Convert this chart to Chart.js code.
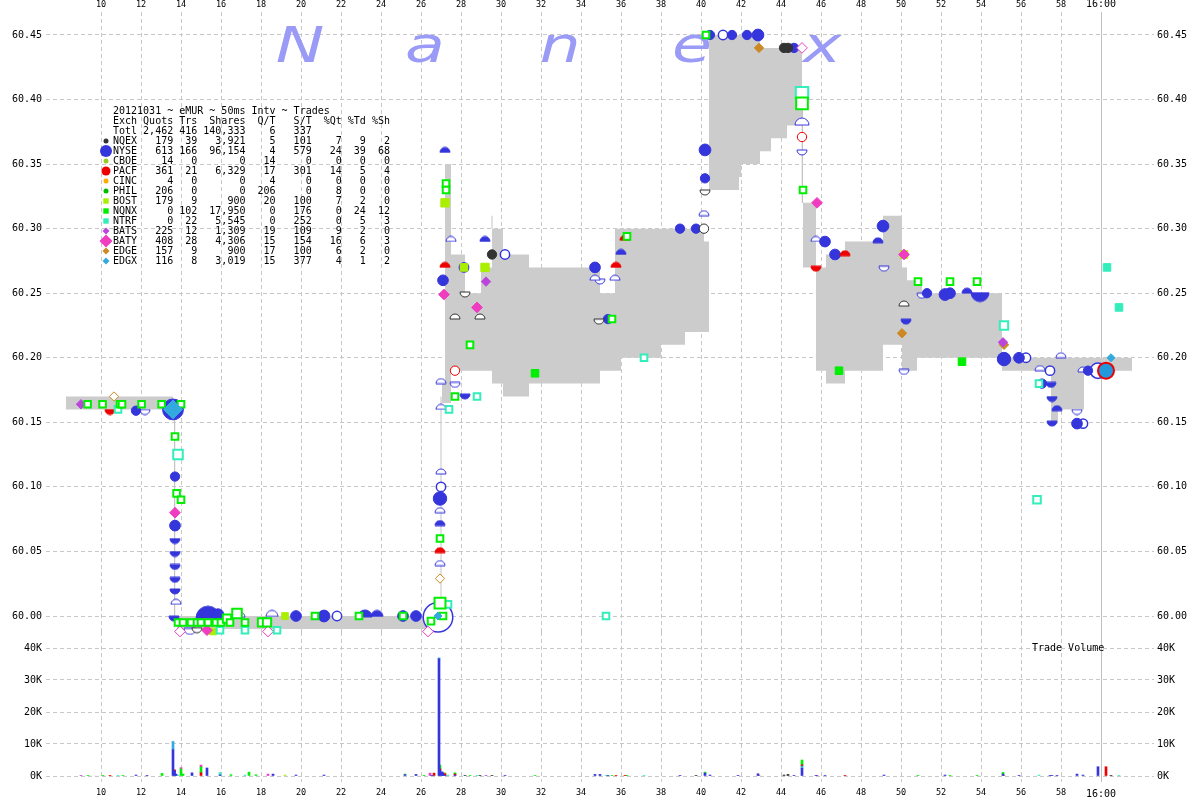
<!DOCTYPE html>
<html>
<head>
<meta charset="utf-8">
<script src="https://cdn.jsdelivr.net/npm/chart.js@4.4.1/dist/chart.umd.min.js"></script>
<style>
  html, body { margin: 0; padding: 0; background: #fff; }
  #wrap { position: relative; width: 1200px; height: 800px; }
  #volBox { position: absolute; left: 0; top: 632px; width: 1200px; height: 168px; z-index: 1; }
  #priceBox { position: absolute; left: 0; top: 0; width: 1200px; height: 640px; z-index: 2; }
  canvas { display: block; }
</style>
</head>
<body>
<div id="wrap">
  <div id="volBox"><canvas id="vol"></canvas></div>
  <div id="priceBox"><canvas id="price"></canvas></div>
</div>
<script>
// time axis = seconds after 15:59:00, 60 = 16:00:00
const X_MIN = 7.25, X_MAX = 62.65, CLOSE_SEC = 60;
const P_MIN = 59.987608, P_MAX = 60.467814;
const V_MIN = -1875, V_MAX = 45000;

// tick values
const timeTicks  = [10, 12, 14, 16, 18, 20, 22, 24, 26, 28, 30, 32, 34, 36, 38, 40, 42, 44, 46, 48, 50, 52, 54, 56, 58, 60];
const priceTicks = [60.00, 60.05, 60.10, 60.15, 60.20, 60.25, 60.30, 60.35, 60.40, 60.45];
const volTicks   = [0, 10000, 20000, 30000, 40000];

// NBBO band (bid / ask), null = gap
const bandT   = [8.25, 13.6, 13.65, 13.8, 26.35, 26.6, 27.05, 27.2, 27.5, 28.2, 29.0, 29.55, 30.1, 31.4, 34.95, 35.7, 36.0, 38.0, 39.2, 40.15, 40.4, 41.9, 42.0, 42.95, 43.5, 44.3, 45.05, 45.07, 45.1, 45.75, 46.25, 47.2, 49.1, 50.05, 50.3, 50.8, 51.05, 55.05, 57.5, 57.85, 59.15, 61.55];
const bandBid = [60.16, 60.16, null, 59.99, 59.99, null, 60.165, 60.165, 60.19, 60.19, 60.19, 60.18, 60.17, 60.18, 60.19, 60.19, 60.20, 60.21, 60.22, 60.22, 60.33, 60.34, 60.35, 60.36, 60.37, 60.38, 60.38, null, 60.27, 60.19, 60.18, 60.19, 60.21, 60.19, 60.19, 60.20, 60.20, 60.19, 60.15, 60.16, 60.19, 60.19];
const bandAsk = [60.17, 60.17, null, 60.00, 60.00, null, 60.18, 60.35, 60.28, 60.25, 60.27, 60.30, 60.28, 60.27, 60.25, 60.30, 60.30, 60.30, 60.30, 60.29, 60.45, 60.45, 60.45, 60.44, 60.44, 60.44, 60.44, null, 60.32, 60.27, 60.28, 60.29, 60.31, 60.27, 60.26, 60.26, 60.25, 60.20, 60.20, 60.20, 60.20, 60.20];
// fast moves drawn as thin lines
const connT = [13.68, 13.68, null, 27.0, 27.0, null, 29.55, 29.55, null, 45.07, 45.07];
const connP = [60.165, 59.995, null, 59.995, 60.17, null, 60.30, 60.31, null, 60.41, 60.32];

// NYSE
const nyseTrdT  = [11.75, 13.6, 13.7, 13.7, 15.85, 19.75, 21.15, 25.1, 25.75, 26.95, 27.1, 34.7, 35.35, 38.95, 39.75, 40.2, 40.2, 40.45, 41.55, 42.3, 42.85, 44.65, 46.2, 46.7, 49.1, 51.3, 52.2, 52.45, 55.15, 55.9, 57.05, 58.8, 59.35];
const nyseTrdP  = [60.159, 60.160, 60.108, 60.070, 60.001, 60.000, 60.000, 60.000, 60.000, 60.091, 60.260, 60.270, 60.230, 60.300, 60.300, 60.361, 60.339, 60.450, 60.450, 60.450, 60.450, 60.440, 60.290, 60.280, 60.302, 60.250, 60.249, 60.250, 60.199, 60.200, 60.180, 60.149, 60.190];
const nyseTrdSz = [100, 2000, 100, 200, 300, 200, 300, 200, 200, 500, 200, 200, 100, 100, 100, 300, 100, 100, 100, 100, 300, 100, 200, 200, 300, 100, 300, 200, 500, 200, 100, 200, 100];
const nyseBidT  = [15.35, 23.2, 23.8, 26.95, 27.2, 29.2, 36.0, 48.85, 53.3, 57.8];
const nyseBidP  = [60.003, 60.002, 60.002, 60.072, 60.361, 60.292, 60.282, 60.291, 60.252, 60.161];
const nyseBidSz = [3000, 500, 300, 100, 100, 100, 100, 100, 200, 100];
const nyseAskT  = [13.7, 13.7, 13.7, 13.7, 13.7, 13.65, 28.2, 50.25, 53.95, 57.5, 57.55, 57.55];
const nyseAskP  = [60.058, 60.048, 60.038, 60.028, 60.019, 59.998, 60.170, 60.228, 60.247, 60.179, 60.168, 60.149];
const nyseAskSz = [200, 200, 200, 100, 100, 200, 100, 100, 1500, 100, 100, 100];
const nyseBidOT  = [13.75, 16.95, 18.55, 26.95, 26.95, 27.0, 27.0, 27.0, 27.5, 34.7, 35.7, 40.15, 45.05, 45.75, 56.95, 58.0, 59.1];
const nyseBidOP  = [60.011, 60.001, 60.002, 60.082, 60.041, 60.112, 60.162, 60.182, 60.292, 60.262, 60.262, 60.312, 60.383, 60.292, 60.192, 60.202, 60.191];
const nyseBidOSz = [100, 100, 300, 100, 100, 100, 100, 200, 100, 100, 100, 100, 600, 100, 100, 100, 100];
const nyseAskOT  = [12.2, 14.45, 27.7, 34.95, 45.05, 49.15, 50.15, 51.05, 58.8];
const nyseAskOP  = [60.158, 59.988, 60.179, 60.259, 60.359, 60.269, 60.189, 60.248, 60.158];
const nyseAskOSz = [100, 300, 100, 100, 100, 100, 100, 100, 100];
const nyseRingT  = [21.8, 26.85, 27.0, 28.15, 30.2, 41.1, 56.25, 57.45, 59.1, 59.85];
const nyseRingP  = [60.000, 59.999, 60.100, 60.270, 60.280, 60.450, 60.200, 60.190, 60.149, 60.190];
const nyseRingSz = [100, 5000, 100, 100, 100, 100, 100, 100, 100, 800];

// NQEX
const nqexTrdT = [29.55, 44.15, 44.35];
const nqexTrdP = [60.28, 60.44, 60.44];
const nqexAskT = [14.8, 28.2, 34.9, 40.2];
const nqexAskP = [59.989, 60.249, 60.228, 60.328];
const nqexBidT = [27.7, 28.95, 50.15];
const nqexBidP = [60.232, 60.232, 60.242];
const nqexRingT = [40.15];
const nqexRingP = [60.30];

// PACF
const pacfBidT = [26.95, 27.2, 35.75, 36.2, 47.2];
const pacfBidP = [60.051, 60.272, 60.272, 60.293, 60.281];
const pacfAskT = [10.45, 45.75];
const pacfAskP = [60.158, 60.269];
const pacfRingT = [27.7, 45.05];
const pacfRingP = [60.19, 60.371];

// BATY / BATS / EDGE / EDGX / BOST
const batyT  = [13.7, 15.3, 27.15, 28.8, 45.8, 50.15];
const batyP  = [60.080, 59.989, 60.249, 60.239, 60.320, 60.280];
const batyOT = [13.95, 18.35, 26.35, 45.05];
const batyOP = [59.988, 59.988, 59.988, 60.440];
const batsT  = [9.0, 29.25, 55.1];
const batsP  = [60.164, 60.259, 60.212];
const edgeT  = [42.9, 50.05, 55.15];
const edgeP  = [60.44, 60.219, 60.21];
const edgeOT = [10.65, 26.95];
const edgeOP = [60.17, 60.029];
const edgxT  = [13.6, 26.85, 60.5];
const edgxP  = [60.16, 60.000, 60.20];
const edgxSz = [1500, 40, 40];
const edgxTrdT = [60.25];
const edgxTrdP = [60.19];
const edgxTrdSz = [900];
const bostT  = [15.6, 19.2, 27.2, 28.15, 29.2, 50.15, 50.85];
const bostP  = [59.988, 60.0, 60.32, 60.27, 60.27, 60.28, 60.259];
const bostSz = [100, 100, 300, 200, 300, 200, 100];

// NQNX / NTRF prints
const nqnxT  = [9.33, 10.08, 10.95, 11.05, 12.03, 13.03, 14.0, 13.7, 13.78, 14.0, 13.85, 14.1, 14.5, 14.8, 15.0, 15.35, 15.75, 16.0, 16.3, 16.45, 16.8, 17.2, 18.05, 18.3, 20.7, 22.9, 25.1, 26.5, 26.95, 27.1, 26.95, 27.25, 27.25, 27.7, 28.45, 35.55, 36.3, 40.25, 45.05, 45.1, 50.85, 52.45, 53.8];
const nqnxP  = [60.164, 60.164, 60.164, 60.164, 60.164, 60.164, 60.164, 60.139, 60.095, 60.090, 59.995, 59.995, 59.995, 59.995, 59.995, 59.995, 59.995, 59.995, 59.998, 59.995, 60.002, 59.995, 59.995, 59.995, 60.000, 60.000, 60.000, 59.996, 60.010, 60.000, 60.060, 60.335, 60.330, 60.170, 60.210, 60.230, 60.294, 60.450, 60.397, 60.330, 60.259, 60.259, 60.259];
const nqnxSz = [100, 100, 100, 100, 100, 100, 100, 100, 100, 100, 100, 100, 100, 100, 100, 100, 100, 100, 300, 100, 500, 100, 300, 300, 100, 100, 100, 100, 800, 100, 100, 100, 100, 100, 100, 100, 100, 100, 1000, 100, 100, 100, 100];
const nqnxFT = [31.7, 46.9, 53.05];
const nqnxFP = [60.188, 60.19, 60.197];
const ntrfT  = [10.85, 13.85, 15.95, 17.2, 18.8, 27.35, 27.4, 28.8, 35.25, 37.15, 45.05, 55.15, 56.8, 56.9];
const ntrfP  = [60.160, 60.125, 59.989, 59.989, 59.989, 60.009, 60.160, 60.170, 60.000, 60.200, 60.405, 60.225, 60.090, 60.180];
const ntrfSz = [100, 500, 100, 100, 100, 100, 100, 100, 100, 100, 1200, 300, 200, 100];
const ntrfFT = [60.3, 60.9];
const ntrfFP = [60.27, 60.239];

// trade volume by exchange
const volNyseT = [11.75, 12.3, 13.6, 13.68, 13.75, 14.55, 15.3, 15.95, 18.6, 19.75, 21.15, 25.2, 25.75, 26.55, 26.9, 26.95, 27.05, 27.1, 27.2, 27.7, 30.2, 34.7, 34.95, 35.35, 38.95, 40.2, 40.45, 41.85, 42.85, 44.65, 45.05, 45.75, 46.2, 49.15, 52.2, 55.1, 55.9, 57.45, 57.55, 57.8, 58.8, 59.1, 59.85];
const volNyse  = [300, 200, 8200, 1600, 600, 1000, 2500, 300, 600, 300, 300, 400, 500, 200, 36600, 1700, 1300, 1000, 200, 300, 200, 500, 500, 200, 200, 900, 300, 200, 700, 200, 2400, 200, 200, 300, 300, 600, 200, 200, 200, 200, 600, 300, 2900];
const volEdgxT = [13.6, 26.9, 45.05];
const volEdgx  = [2600, 300, 700];
const volNtrfT = [10.85, 13.85, 15.95, 17.2, 27.35, 28.8, 35.25, 37.15, 56.9, 60.9];
const volNtrf  = [200, 300, 800, 300, 300, 200, 200, 200, 300, 200];
const volPacfT = [10.45, 13.68, 15.0, 26.65, 26.95, 27.2, 27.7, 35.75, 36.2, 45.05, 47.2, 60.25];
const volPacf  = [200, 300, 1000, 900, 500, 500, 300, 200, 200, 400, 200, 2900];
const volNqnxT = [9.35, 10.1, 11.1, 13.05, 14.0, 14.1, 15.0, 16.5, 17.4, 17.75, 25.2, 26.15, 26.95, 27.7, 28.45, 31.7, 35.55, 36.3, 40.2, 45.05, 50.85, 52.45, 53.8, 55.1];
const volNqnx  = [200, 200, 200, 800, 2200, 600, 1800, 400, 1200, 400, 200, 100, 1200, 400, 200, 200, 200, 200, 300, 1500, 200, 200, 200, 500];
const volBatyT = [14.0, 15.0, 18.35, 26.45, 45.8];
const volBaty  = [400, 600, 600, 900, 200];
const volNqexT = [28.2, 28.95, 29.55, 39.75, 44.15, 44.35, 60.5];
const volNqex  = [200, 200, 200, 200, 300, 500, 200];
const volBatsT = [9.0, 29.25];
const volBats  = [200, 200];
const volBostT = [19.2, 27.2];
const volBost  = [300, 300];
const volEdgeT = [42.9, 55.15];
const volEdge  = [200, 200];

// stats table
const tableTitle = '20121031 ~ eMUR ~ 50ms Intv ~ Trades';
const totals     = ['Totl', 2462, 416, 140333, 6, 337];
const exchNames  = ['NQEX', 'NYSE', 'CBOE', 'PACF', 'CINC', 'PHIL', 'BOST', 'NQNX', 'NTRF', 'BATS', 'BATY', 'EDGE', 'EDGX'];
const exchQuotes = [179, 613, 14, 361, 4, 206, 179, 0, 0, 225, 408, 157, 116];
const exchTrades = [39, 166, 0, 21, 0, 0, 9, 102, 22, 12, 28, 9, 8];
const exchShares = [3921, 96154, 0, 6329, 0, 0, 900, 17950, 5545, 1309, 4306, 900, 3019];
const exchQT     = [5, 4, 14, 17, 4, 206, 20, 0, 0, 19, 15, 17, 15];
const exchST     = [101, 579, 0, 301, 0, 0, 100, 176, 252, 109, 154, 100, 377];
const exchPctQ   = [7, 24, 0, 14, 0, 8, 7, 0, 0, 9, 16, 6, 4];
const exchPctT   = [9, 39, 0, 5, 0, 0, 2, 24, 5, 2, 6, 2, 1];
const exchPctS   = [2, 68, 0, 4, 0, 0, 0, 12, 3, 0, 3, 0, 2];

const COL = {
  NQEX: '#333333', NYSE: '#3535dc', CBOE: '#99cc22', PACF: '#ee0000', CINC: '#ffaa00',
  PHIL: '#00bb00', BOST: '#aaee00', NQNX: '#00ee00', NTRF: '#33eebb', BATS: '#bb44dd',
  BATY: '#f03cc0', EDGE: '#cc8822', EDGX: '#33aadd'
};
const keyShape = ['circle', 'circle', 'circle', 'circle', 'circle', 'circle', 'rect', 'rect', 'rect', 'diamond', 'diamond', 'diamond', 'diamond'];
const keySize  = [2.5, 6, 2.5, 4.5, 2.5, 2.5, 2.7, 2.7, 2.7, 3.5, 6.5, 3.5, 3.5];

const MONO = '"DejaVu Sans Mono", "Liberation Mono", monospace';
const GRID = '#c8c8c8';

// helpers
const sizeOf = sh => 3 + Math.sqrt(sh) / 6;
const pts = (T, P) => T.map((t, i) => ({ x: t, y: P[i] }));
const ones = (n, v) => new Array(n).fill(v);

const shapeCache = {};
function halfShape(kind, color, r, filled) {
  const key = kind + color + r + filled;
  if (shapeCache[key]) return shapeCache[key];
  const c = document.createElement('canvas');
  c.width = 2 * r + 2;
  c.height = r + 2;
  const g = c.getContext('2d');
  g.beginPath();
  if (kind === 'dome') g.arc(r + 1, r + 1, r, Math.PI, 0);
  else g.arc(r + 1, 1, r, 0, Math.PI);
  g.closePath();
  g.fillStyle = filled ? color : '#ffffff';
  g.fill();
  g.lineWidth = 1;
  g.strokeStyle = color;
  g.stroke();
  shapeCache[key] = c;
  return c;
}

function solid(T, P, S, style, color) {
  return { type: 'scatter', data: pts(T, P), clip: false, pointStyle: style, pointRadius: S.map(sizeOf),
    pointBackgroundColor: color, pointBorderColor: color, pointBorderWidth: 1 };
}
function hollow(T, P, S, style, color, w) {
  return { type: 'scatter', data: pts(T, P), clip: false, pointStyle: style, pointRadius: S.map(sizeOf),
    pointBackgroundColor: '#ffffff', pointBorderColor: color, pointBorderWidth: w || 1 };
}
function half(T, P, S, kind, color, filled) {
  return { type: 'scatter', data: pts(T, P), clip: false, pointRadius: S.map(sizeOf),
    pointStyle: S.map(sh => halfShape(kind, color, Math.round(sizeOf(sh)), filled)) };
}
function volSet(T, V, color) {
  return { type: 'bar', data: pts(T, V), backgroundColor: color, borderWidth: 0, barThickness: 2 };
}

const priceSets = [
  Object.assign(solid(edgxTrdT, edgxTrdP, edgxTrdSz, 'circle', '#2299dd'), { pointBorderColor: '#ee0000', pointBorderWidth: 2 }),
  solid(edgxT, edgxP, edgxSz, 'rectRot', COL.EDGX),
  hollow(nqnxT, nqnxP, nqnxSz, 'rect', COL.NQNX, 2),
  hollow(ntrfT, ntrfP, ntrfSz, 'rect', COL.NTRF, 2),
  solid(batyT, batyP, ones(batyT.length, 200), 'rectRot', COL.BATY),
  hollow(batyOT, batyOP, ones(batyOT.length, 200), 'rectRot', COL.BATY, 1),
  solid(batsT, batsP, ones(batsT.length, 100), 'rectRot', COL.BATS),
  solid(edgeT, edgeP, ones(edgeT.length, 100), 'rectRot', COL.EDGE),
  hollow(edgeOT, edgeOP, ones(edgeOT.length, 100), 'rectRot', COL.EDGE, 1),
  solid(bostT, bostP, bostSz, 'rect', COL.BOST),
  half(pacfBidT, pacfBidP, ones(pacfBidT.length, 100), 'dome', COL.PACF, true),
  half(pacfAskT, pacfAskP, ones(pacfAskT.length, 100), 'bowl', COL.PACF, true),
  hollow(pacfRingT, pacfRingP, ones(pacfRingT.length, 100), 'circle', COL.PACF, 1),
  solid(nqexTrdT, nqexTrdP, ones(nqexTrdT.length, 100), 'circle', COL.NQEX),
  half(nqexAskT, nqexAskP, ones(nqexAskT.length, 100), 'bowl', COL.NQEX, false),
  half(nqexBidT, nqexBidP, ones(nqexBidT.length, 100), 'dome', COL.NQEX, false),
  hollow(nqexRingT, nqexRingP, ones(nqexRingT.length, 100), 'circle', COL.NQEX, 1),
  solid(nyseTrdT, nyseTrdP, nyseTrdSz, 'circle', COL.NYSE),
  half(nyseBidT, nyseBidP, nyseBidSz, 'dome', COL.NYSE, true),
  half(nyseAskT, nyseAskP, nyseAskSz, 'bowl', COL.NYSE, true),
  half(nyseBidOT, nyseBidOP, nyseBidOSz, 'dome', COL.NYSE, false),
  half(nyseAskOT, nyseAskOP, nyseAskOSz, 'bowl', COL.NYSE, false),
  hollow(nyseRingT, nyseRingP, nyseRingSz, 'circle', COL.NYSE, 1.5),
  solid(nqnxFT, nqnxFP, ones(nqnxFT.length, 200), 'rect', COL.NQNX),
  solid(ntrfFT, ntrfFP, ones(ntrfFT.length, 200), 'rect', COL.NTRF),
  { type: 'line', data: pts(connT, connP), borderColor: '#c4c4c4', borderWidth: 1, pointRadius: 0, spanGaps: false, fill: false, order: 9 },
  { type: 'line', data: pts(bandT, bandBid), stepped: true, borderWidth: 0, pointRadius: 0, spanGaps: false, fill: false, order: 10 },
  { type: 'line', data: pts(bandT, bandAsk), stepped: true, borderWidth: 0, pointRadius: 0, spanGaps: false, fill: '-1', backgroundColor: '#cccccc', order: 10 }
];

const volSets = [
  volSet(volNyseT, volNyse, COL.NYSE),
  volSet(volEdgxT, volEdgx, COL.EDGX),
  volSet(volNtrfT, volNtrf, COL.NTRF),
  volSet(volPacfT, volPacf, COL.PACF),
  volSet(volNqnxT, volNqnx, COL.NQNX),
  volSet(volBatyT, volBaty, COL.BATY),
  volSet(volNqexT, volNqex, COL.NQEX),
  volSet(volBatsT, volBats, COL.BATS),
  volSet(volBostT, volBost, COL.BOST),
  volSet(volEdgeT, volEdge, COL.EDGE)
];

function zeroPad(s) { s.paddingTop = 0; s.paddingBottom = 0; s.paddingLeft = 0; s.paddingRight = 0; }
const useTicks = list => s => { s.ticks = list.map(v => ({ value: v })); };

function timeAxis(position, pad, h, stacked) {
  return {
    type: 'linear', position, min: X_MIN, max: X_MAX, stacked, offset: false,
    afterBuildTicks: useTicks(timeTicks),
    afterFit: s => { s.height = h; zeroPad(s); },
    grid: { offset: false, drawTicks: false, color: c => (c.tick && c.tick.value === CLOSE_SEC) ? 'rgba(0,0,0,0)' : GRID },
    border: { display: false, dash: [4, 3] },
    ticks: {
      padding: pad, autoSkip: false, maxRotation: 0, color: '#000',
      font: c => ({ family: MONO, size: (c.tick && c.tick.value === CLOSE_SEC) ? 10 : 8.5 }),
      callback: v => v === CLOSE_SEC ? '16:00' : String(v)
    }
  };
}

function valueAxis(position, showGrid, min, max, list, fmt, stacked) {
  return {
    type: 'linear', position, min, max, stacked, beginAtZero: false,
    afterBuildTicks: useTicks(list),
    afterFit: s => { s.width = 46; zeroPad(s); },
    grid: { display: showGrid, drawTicks: false, color: GRID },
    border: { display: false, dash: [4, 3] },
    ticks: { autoSkip: false, padding: position === 'left' ? 4 : 3, color: '#000',
      font: { family: MONO, size: 10 }, callback: fmt }
  };
}

const fmtPrice = v => Number(v).toFixed(2);
const fmtVol = v => Math.round(v / 1000) + 'K';

// plugins
const closeLine = {
  id: 'closeLine',
  beforeDatasetsDraw(chart) {
    const { ctx, chartArea, scales } = chart;
    const px = Math.round(scales.x.getPixelForValue(CLOSE_SEC)) + 0.5;
    ctx.save();
    ctx.strokeStyle = '#c0c0c0';
    ctx.lineWidth = 1;
    ctx.beginPath();
    ctx.moveTo(px, chartArea.top);
    ctx.lineTo(px, chartArea.bottom);
    ctx.stroke();
    ctx.restore();
  }
};

const brandLetters = ['N', 'a', 'n', 'e', 'x'];
const brandX = [300, 425, 560, 692, 822];
const watermark = {
  id: 'watermark',
  beforeDatasetsDraw(chart) {
    const ctx = chart.ctx;
    ctx.save();
    ctx.fillStyle = '#9a9af7';
    ctx.font = 'italic 50px "DejaVu Sans"';
    ctx.textAlign = 'center';
    ctx.textBaseline = 'alphabetic';
    brandLetters.forEach((ch, i) => {
      ctx.save();
      ctx.translate(brandX[i], 62);
      ctx.scale(1.3, 1);
      ctx.fillText(ch, 0, 0);
      ctx.restore();
    });
    ctx.restore();
  }
};

function cell(v, n) {
  const s = typeof v === 'number' ? v.toLocaleString('en-US') : String(v);
  return s.padStart(n);
}
function tableRow(name, q, t, sh, qt, st, pq, pt, ps) {
  return name.padEnd(4) + cell(q, 6) + cell(t, 4) + cell(sh, 8) + cell(qt, 5) + cell(st, 6) + cell(pq, 5) + cell(pt, 4) + cell(ps, 4);
}
function drawKey(ctx, shape, color, r, x, y) {
  ctx.fillStyle = color;
  ctx.beginPath();
  if (shape === 'circle') ctx.arc(x, y, r, 0, Math.PI * 2);
  else if (shape === 'rect') ctx.rect(x - r, y - r, 2 * r, 2 * r);
  else { ctx.moveTo(x, y - r); ctx.lineTo(x + r, y); ctx.lineTo(x, y + r); ctx.lineTo(x - r, y); ctx.closePath(); }
  ctx.fill();
}

const statsTable = {
  id: 'statsTable',
  beforeDatasetsDraw(chart) {
    const ctx = chart.ctx;
    const x0 = 113, y0 = 111, lh = 10;
    ctx.save();
    ctx.font = '10px ' + MONO;
    ctx.textAlign = 'left';
    ctx.textBaseline = 'middle';
    ctx.fillStyle = '#000';
    ctx.fillText(tableTitle, x0, y0);
    ctx.fillText(tableRow('Exch', 'Quots', 'Trs', 'Shares', 'Q/T', 'S/T', '%Qt', '%Td', '%Sh'), x0, y0 + lh);
    ctx.fillText(tableRow(totals[0], totals[1], totals[2], totals[3], totals[4], totals[5], '', '', ''), x0, y0 + 2 * lh);
    exchNames.forEach((n, i) => {
      const y = y0 + (i + 3) * lh;
      drawKey(ctx, keyShape[i], COL[n], keySize[i], 106, y);
      ctx.fillStyle = '#000';
      ctx.fillText(tableRow(n, exchQuotes[i], exchTrades[i], exchShares[i], exchQT[i], exchST[i],
        exchPctQ[i], exchPctT[i], exchPctS[i]), x0, y);
    });
    ctx.restore();
  }
};

const volLabel = {
  id: 'volLabel',
  afterDatasetsDraw(chart) {
    const ctx = chart.ctx;
    ctx.save();
    ctx.font = '10px ' + MONO;
    ctx.fillStyle = '#000';
    ctx.textAlign = 'left';
    ctx.textBaseline = 'middle';
    ctx.fillText('Trade Volume', 1032, 16);
    ctx.restore();
  }
};

const baseOpts = {
  responsive: true,
  maintainAspectRatio: false,
  animation: false,
  events: [],
  plugins: { legend: { display: false }, tooltip: { enabled: false } }
};

new Chart(document.getElementById('price'), {
  type: 'scatter',
  data: { datasets: priceSets },
  options: Object.assign({}, baseOpts, {
    layout: { autoPadding: false, padding: { left: 0, right: 0, top: 0, bottom: 8 } },
    scales: {
      x: timeAxis('top', 2, 12, false),
      y: valueAxis('left', true, P_MIN, P_MAX, priceTicks, fmtPrice, false),
      y2: valueAxis('right', false, P_MIN, P_MAX, priceTicks, fmtPrice, false)
    }
  }),
  plugins: [closeLine, watermark, statsTable]
});

new Chart(document.getElementById('vol'), {
  type: 'bar',
  data: { datasets: volSets },
  options: Object.assign({}, baseOpts, {
    layout: { autoPadding: false, padding: 0 },
    scales: {
      x: timeAxis('bottom', 6, 18, true),
      y: valueAxis('left', true, V_MIN, V_MAX, volTicks, fmtVol, true),
      y2: valueAxis('right', false, V_MIN, V_MAX, volTicks, fmtVol, true)
    }
  }),
  plugins: [closeLine, volLabel]
});
</script>
</body>
</html>
